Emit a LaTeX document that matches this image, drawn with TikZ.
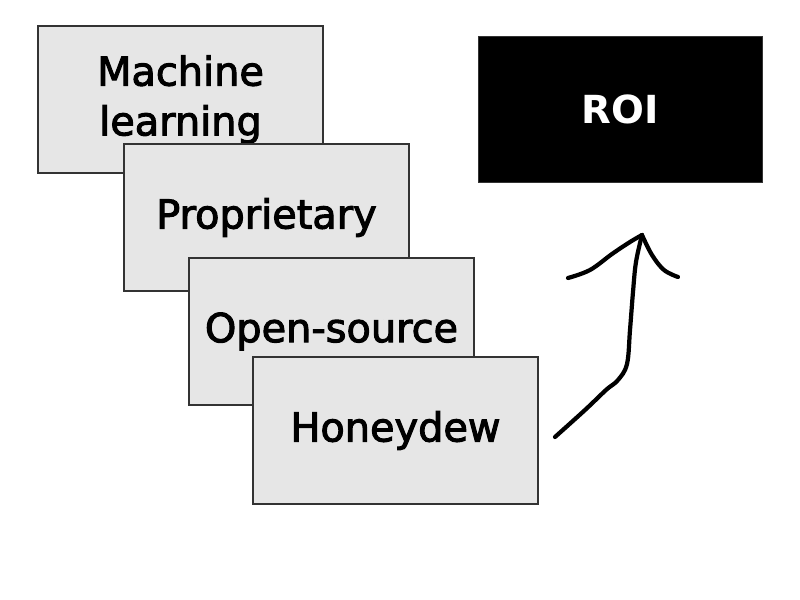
\documentclass[tikz,border=0pt]{standalone}
\usepackage{fontspec}
\setmainfont{DejaVu Sans}
\newfontfamily\heavyfont{DejaVu Sans}[FakeBold=2.6]
\usepackage{tikz}
\usetikzlibrary{positioning}
\definecolor{cardc}{HTML}{E6E6E6}
\definecolor{edgec}{HTML}{333333}
\tikzset{
  card/.style={rectangle, draw=edgec, fill=cardc, line width=1.2pt,
    minimum width=285*0.03cm, minimum height=147*0.03cm, inner sep=0pt,
    align=center, font=\fontsize{34}{42.5}\selectfont\heavyfont},
  roibox/.style={rectangle, draw=edgec, fill=black, line width=0.6pt,
    minimum width=284*0.03cm, minimum height=146*0.03cm, inner sep=0pt,
    text=white, font=\fontsize{33}{40}\selectfont\bfseries},
  sketch/.style={line width=3.6pt, line cap=round, line join=round}
}
\begin{document}
\begin{tikzpicture}[x=0.03cm, y=-0.03cm]
    \useasboundingbox (0,0) rectangle (800,600);
    \node[card] (ml)    at (180.5,99.5)  {Machine\\learning};
    \node[card] (prop)  at (266.5,217.5) {Proprietary};
    \node[card] (open)  at (331.5,331.5) {Open-source};
    \node[card] (honey) at (395.5,430.5) {Honeydew};
    \node[roibox] (roi) at (620,109) {ROI};
    % hand-drawn arrow
    \coordinate (tip) at (642,235);
    \draw[sketch] plot[smooth, tension=0.6] coordinates
      {(555,437) (585,410) (606,390) (618,380) (627,364) (630,330)
       (633,292) (636,262) (tip)};
    \draw[sketch] plot[smooth, tension=0.6] coordinates
      {(568,278) (590,270) (612,254) (630,242) (tip)};
    \draw[sketch] plot[smooth, tension=0.6] coordinates
      {(tip) (652,255) (664,270) (678,277)};
\end{tikzpicture}
\end{document}
